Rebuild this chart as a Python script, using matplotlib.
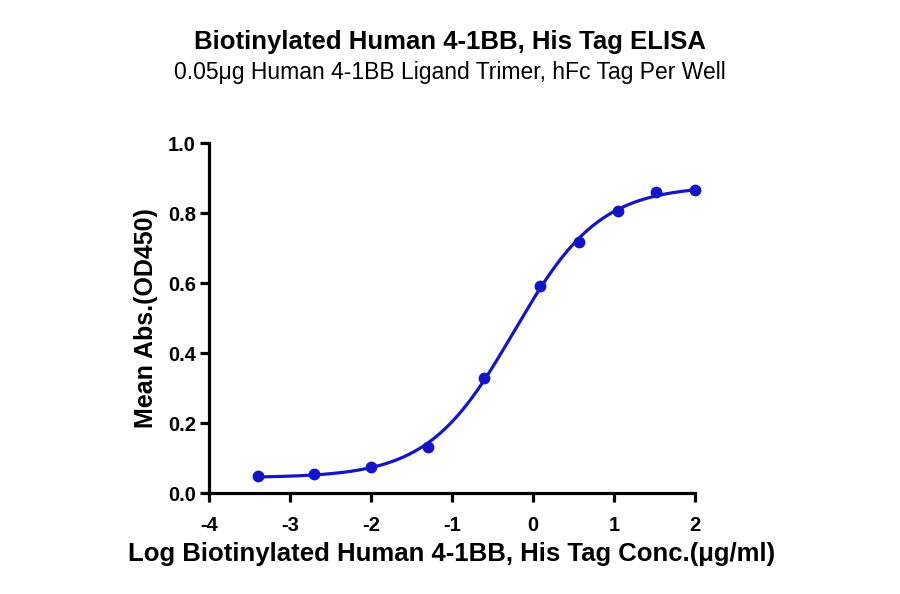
import numpy as np
import matplotlib
matplotlib.use("Agg")
import matplotlib.pyplot as plt

plt.rcParams['font.family'] = ['Liberation Sans', 'DejaVu Sans']

title = "Biotinylated Human 4-1BB, His Tag ELISA"
subtitle = "0.05\u03bcg Human 4-1BB Ligand Trimer, hFc Tag Per Well"
xlabel = "Log Biotinylated Human 4-1BB, His Tag Conc.(\u03bcg/ml)"
ylabel = "Mean Abs.(OD450)"

log_conc = [-3.40, -2.70, -2.00, -1.30, -0.60, 0.09, 0.57, 1.05, 1.52, 2.00]
od450 = [0.048, 0.055, 0.073, 0.132, 0.328, 0.593, 0.718, 0.805, 0.860, 0.865]
xticks = [-4, -3, -2, -1, 0, 1, 2]
yticks = [0.0, 0.2, 0.4, 0.6, 0.8, 1.0]

x = np.array(log_conc)
y = np.array(od450)

def model(p, xx):
    b, t, c, h = p
    return b + (t - b) / (1 + 10 ** ((c - xx) * h))

# Levenberg-Marquardt fit of 4PL
p = np.array([y.min(), y.max(), np.median(x), 1.0])
lam = 1e-3
for _ in range(300):
    r = y - model(p, x)
    J = np.zeros((len(x), 4))
    for i in range(4):
        dp = np.zeros(4); dp[i] = 1e-6
        J[:, i] = (model(p + dp, x) - model(p - dp, x)) / 2e-6
    A = J.T @ J
    step = np.linalg.solve(A + lam * np.diag(np.diag(A)), J.T @ r)
    pn = p + step
    if np.sum((y - model(pn, x)) ** 2) < np.sum(r ** 2):
        p = pn; lam *= 0.5
    else:
        lam *= 5

xs = np.linspace(x.min(), x.max(), 300)
color = "#1414c8"

fig = plt.figure(figsize=(9, 5.94), dpi=100)
ax = fig.add_axes([0.2322, 0.170, 0.540, 0.589])
ax.plot(xs, model(p, xs), color=color, lw=2.3, zorder=2)
ax.plot(x, y, 'o', color=color, ms=7.5, zorder=3, clip_on=False)

ax.set_xlim(-4, 2)
ax.set_ylim(0, 1.0)
ax.set_xticks(xticks)
ax.set_yticks(yticks)
ax.set_xticklabels([str(t) for t in xticks])
ax.set_yticklabels([f"{t:.1f}" for t in yticks])
for s in ['top', 'right']:
    ax.spines[s].set_visible(False)
for s in ['left', 'bottom']:
    ax.spines[s].set_linewidth(2.3)
    ax.spines[s].set_color('black')
ax.tick_params(direction='out', length=6.5, width=2.3, labelsize=14.5)
ax.tick_params(axis='x', pad=10)
ax.tick_params(axis='y', pad=3)
for lab in ax.get_xticklabels() + ax.get_yticklabels():
    lab.set_fontweight('bold')

ax.set_xlabel(xlabel, fontsize=18.5, fontweight='bold', labelpad=5)
ax.set_ylabel(ylabel, fontsize=18, fontweight='bold', labelpad=7)

fig.text(0.5, 0.929, title, ha='center', va='center', fontsize=18.5, fontweight='bold')
fig.text(0.5, 0.878, subtitle, ha='center', va='center', fontsize=16.5)

fig.savefig("out.png", dpi=100)
